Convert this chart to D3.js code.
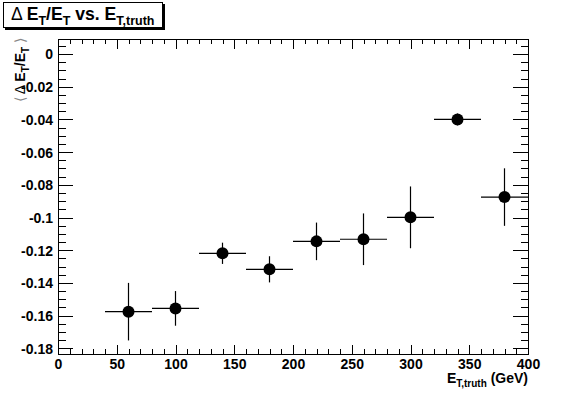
<!DOCTYPE html>
<meta charset="utf-8">
<style>

body {
  margin: 0;
  background: #fff;
}

svg {
  display: block;
  font-family: "Liberation Sans", Arial, sans-serif;
}

.axis path {
  display: none;
}

.axis line {
  stroke: #000;
  stroke-width: 1px;
  shape-rendering: crispEdges;
}

.axis text {
  font: bold 14px "Liberation Sans", Arial, sans-serif;
  fill: #000;
}

.frame {
  fill: none;
  stroke: #000;
  stroke-width: 1px;
  shape-rendering: crispEdges;
}

.err {
  stroke: #000;
  stroke-width: 1.2px;
}

</style>
<svg width="587" height="394"></svg>
<script src="https://d3js.org/d3.v7.min.js"></script>
<script>

// bin centres (GeV), half bin width, mean of dE/E and its error
var binCenters = [60, 100, 140, 180, 220, 260, 300, 340, 380];
var binHalfWidth = [20, 20, 20, 20, 20, 20, 20, 20, 20];
var meanValues = [-0.1576, -0.1556, -0.1219, -0.1317, -0.1146, -0.1133, -0.0999, -0.0400, -0.0875];
var meanErrors = [0.0176, 0.0106, 0.0065, 0.0080, 0.0115, 0.0158, 0.0189, 0.0036, 0.0176];

var xMajorTicks = [0, 50, 100, 150, 200, 250, 300, 350, 400];
var yMajorTicks = [0, -0.02, -0.04, -0.06, -0.08, -0.1, -0.12, -0.14, -0.16, -0.18];

var svg = d3.select("svg"),
    fLeft = 58, fRight = 528, fTop = 39, fBottom = 354;

svg.append("rect")
    .attr("width", 587)
    .attr("height", 394)
    .attr("fill", "#fff");

var x = d3.scaleLinear().domain([0, 400]).range([fLeft, fRight]);
var y = d3.scaleLinear().domain([-0.1835, 0.0092]).range([fBottom, fTop]);

var xMinor = d3.range(0, 401, 10).filter(function(v) { return v % 50 !== 0; });
var yMinor = d3.range(-180, 10, 5).map(function(v) { return v / 1000; })
    .filter(function(v) { return Math.round(v * 1000) % 20 !== 0 && y(v) >= fTop && y(v) <= fBottom; });

function fmt(d) { return d === 0 ? "0" : String(+d.toFixed(2)); }

function axisG(tx, ty) {
  return svg.append("g").attr("class", "axis")
      .attr("transform", "translate(" + tx + "," + ty + ")");
}

// bottom axis
axisG(0, fBottom)
    .call(d3.axisBottom(x).tickValues(xMajorTicks).tickSize(-9.5).tickPadding(4).tickFormat(fmt))
  .selectAll("text").attr("dy", "0.75em");
axisG(0, fBottom)
    .call(d3.axisBottom(x).tickValues(xMinor).tickSize(-5).tickFormat(""));

// top axis (ticks only)
axisG(0, fTop)
    .call(d3.axisTop(x).tickValues(xMajorTicks).tickSize(-9.5).tickFormat(""));
axisG(0, fTop)
    .call(d3.axisTop(x).tickValues(xMinor).tickSize(-5).tickFormat(""));

// left axis
axisG(fLeft, 0)
    .call(d3.axisLeft(y).tickValues(yMajorTicks).tickSize(-15).tickPadding(5).tickFormat(fmt))
  .selectAll("text").attr("dy", "0.35em");
axisG(fLeft, 0)
    .call(d3.axisLeft(y).tickValues(yMinor).tickSize(-7.5).tickFormat(""));

// right axis (ticks only)
axisG(fRight, 0)
    .call(d3.axisRight(y).tickValues(yMajorTicks).tickSize(-15).tickFormat(""));
axisG(fRight, 0)
    .call(d3.axisRight(y).tickValues(yMinor).tickSize(-7.5).tickFormat(""));

svg.append("rect")
    .attr("class", "frame")
    .attr("x", fLeft + 0.5)
    .attr("y", fTop + 0.5)
    .attr("width", fRight - fLeft)
    .attr("height", fBottom - fTop);

// points
var pts = binCenters.map(function(c, i) {
  return {x: c, dx: binHalfWidth[i], y: meanValues[i], dy: meanErrors[i]};
});

var pt = svg.append("g").selectAll("g")
    .data(pts)
  .enter().append("g");

pt.append("line").attr("class", "err")
    .attr("x1", function(d) { return x(d.x - d.dx); })
    .attr("x2", function(d) { return x(d.x + d.dx); })
    .attr("y1", function(d) { return y(d.y); })
    .attr("y2", function(d) { return y(d.y); });

pt.append("line").attr("class", "err")
    .attr("x1", function(d) { return x(d.x); })
    .attr("x2", function(d) { return x(d.x); })
    .attr("y1", function(d) { return y(d.y - d.dy); })
    .attr("y2", function(d) { return y(d.y + d.dy); });

pt.append("circle")
    .attr("cx", function(d) { return x(d.x); })
    .attr("cy", function(d) { return y(d.y); })
    .attr("r", 6)
    .attr("fill", "#000");

// x title
var xt = svg.append("text")
    .attr("x", fRight)
    .attr("y", 383)
    .attr("text-anchor", "end")
    .style("font", "bold 14px 'Liberation Sans', Arial, sans-serif");
xt.append("tspan").text("E");
xt.append("tspan").attr("dy", 4).style("font-size", "10px").text("T,truth");
xt.append("tspan").attr("dy", -4).text(" (GeV)");

// y title
var yt = svg.append("text")
    .attr("transform", "translate(25,38) rotate(-90)")
    .attr("text-anchor", "end")
    .style("font", "bold 14px 'Liberation Sans', Arial, sans-serif");
yt.append("tspan").style("font-weight", "normal").attr("fill", "#888").text("\u27e8 ");
yt.append("tspan").style("font-weight", "normal").text("\u0394 ");
yt.append("tspan").text("E");
yt.append("tspan").attr("dy", 4).style("font-size", "10px").text("T");
yt.append("tspan").attr("dy", -4).text("/E");
yt.append("tspan").attr("dy", 4).style("font-size", "10px").text("T");
yt.append("tspan").attr("dy", -4).style("font-weight", "normal").attr("fill", "#888").text(" \u27e9");

// title box
svg.append("rect")
    .attr("x", 5).attr("y", 4).attr("width", 160).attr("height", 26)
    .attr("fill", "#000");
svg.append("rect")
    .attr("x", 3.5).attr("y", 2.5).attr("width", 159).attr("height", 25)
    .attr("fill", "#fff").attr("stroke", "#000").attr("stroke-width", 1);

var tt = svg.append("text")
    .attr("x", 11)
    .attr("y", 20)
    .style("font", "bold 17.6px 'Liberation Sans', Arial, sans-serif");
tt.append("tspan").style("font-weight", "normal").text("\u0394 ");
tt.append("tspan").text("E");
tt.append("tspan").attr("dy", 5).style("font-size", "12.5px").text("T");
tt.append("tspan").attr("dy", -5).text("/E");
tt.append("tspan").attr("dy", 5).style("font-size", "12.5px").text("T");
tt.append("tspan").attr("dy", -5).text(" vs. E");
tt.append("tspan").attr("dy", 5).style("font-size", "12.5px").text("T,truth");

</script>
